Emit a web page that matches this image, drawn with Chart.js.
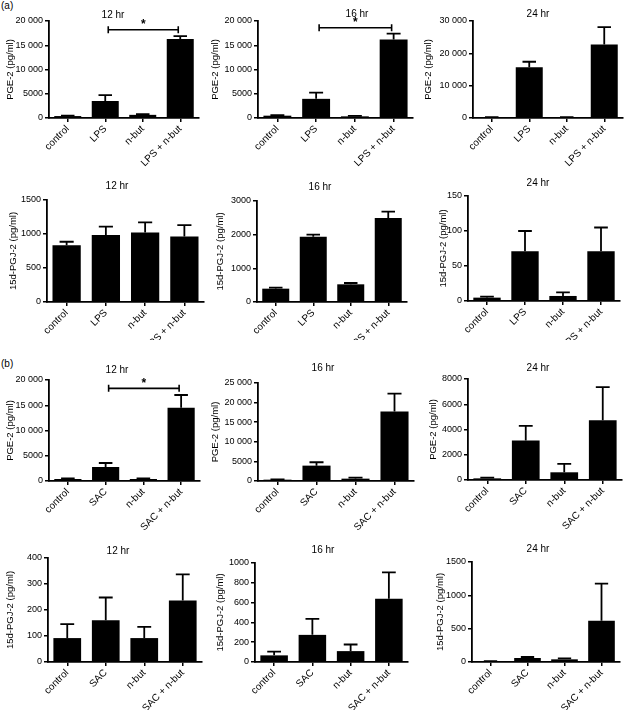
<!DOCTYPE html>
<html>
<head>
<meta charset="utf-8">
<script src="https://cdn.jsdelivr.net/npm/chart.js@4.4.1/dist/chart.umd.min.js"></script>
<style>
  html, body { margin: 0; padding: 0; background: #fff; }
  #fig { position: relative; width: 625px; height: 710px; overflow: hidden; font-family: "Liberation Sans", Arial, sans-serif; }
  .panel { position: absolute; }
  .tag { position: absolute; font-size: 10px; color: #000; line-height: 12px; }
</style>
</head>
<body>
<div id="fig">
  <div class="tag" style="left:1px;top:0px">(a)</div>
  <div class="tag" style="left:1px;top:358px">(b)</div>
</div>
<script>
// categories
const catsLPS = ['control', 'LPS', 'n-but', 'LPS + n-but'];
const catsSAC = ['control', 'SAC', 'n-but', 'SAC + n-but'];

// (a) LPS - PGE-2 (pg/ml), mean and upper error
const pgeLps12 = [400, 3500, 650, 16300];
const pgeLps12Err = [80, 1200, 150, 600];
const pgeLps16 = [480, 3950, 340, 16200];
const pgeLps16Err = [120, 1300, 100, 1200];
const pgeLps24 = [200, 15700, 200, 22700];
const pgeLps24Err = [50, 1700, 50, 5400];

// (a) LPS - 15d-PGJ-2 (pg/ml)
const pgjLps12 = [836, 984, 1023, 964];
const pgjLps12Err = [50, 123, 147, 167];
const pgjLps16 = [396, 1940, 525, 2495];
const pgjLps16Err = [30, 60, 40, 190];
const pgjLps24 = [4.8, 71, 7.2, 71];
const pgjLps24Err = [1.4, 29, 5.2, 34];

// (b) SAC - PGE-2 (pg/ml)
const pgeSac12 = [400, 2770, 400, 14520];
const pgeSac12Err = [100, 790, 100, 2510];
const pgeSac16 = [340, 3920, 600, 17750];
const pgeSac16Err = [100, 860, 250, 4520];
const pgeSac24 = [130, 3126, 610, 4740];
const pgeSac24Err = [55, 1164, 660, 2620];

// (b) SAC - 15d-PGJ-2 (pg/ml)
const pgjSac12 = [92, 161, 92, 237];
const pgjSac12Err = [54, 87, 43, 100];
const pgjSac16 = [67, 274, 110, 639];
const pgjSac16Err = [37, 161, 67, 267];
const pgjSac24 = [10, 60, 40, 620];
const pgjSac24Err = [3, 15, 15, 555];

// y tick labels
const ticks20k = [0, 5000, 10000, 15000, 20000];
const ticks30k = [0, 10000, 20000, 30000];
const ticks25k = [0, 5000, 10000, 15000, 20000, 25000];
const ticks8k = [0, 2000, 4000, 6000, 8000];
const ticks1500 = [0, 500, 1000, 1500];
const ticks3000 = [0, 1000, 2000, 3000];
const ticks150 = [0, 50, 100, 150];
const ticks400 = [0, 100, 200, 300, 400];
const ticks1000 = [0, 200, 400, 600, 800, 1000];

// significance brackets: [from index, to index, level]
const sigLps12 = [1, 3, 18200];
const sigLps16 = [1, 3, 18600];
const sigSac12 = [1, 3, 18350];

const pgeLabel = 'PGE-2 (pg/ml)';
const pgjLabel = '15d-PGJ-2 (pg/ml)';

const FONT = '"Liberation Sans", Arial, sans-serif';

// thousands separator with a space, only for 5+ digit numbers
function fmt(v) {
    if (Math.abs(v) < 10000) return String(v);
    return String(v).replace(/\B(?=(\d{3})+(?!\d))/g, ' ');
}

// upper error bars with caps
const errorBars = {
    id: 'errorBars',
    afterDatasetsDraw(chart) {
        const ds = chart.data.datasets[0];
        const meta = chart.getDatasetMeta(0);
        const y = chart.scales.y;
        const ctx = chart.ctx;
        ctx.save();
        ctx.strokeStyle = '#000';
        ctx.lineWidth = 1.8;
        ds.data.forEach((v, i) => {
            const bar = meta.data[i];
            const yTop = y.getPixelForValue(v + ds.errors[i]);
            const yBase = y.getPixelForValue(v);
            const half = bar.width / 4;
            ctx.beginPath();
            ctx.moveTo(bar.x, yBase);
            ctx.lineTo(bar.x, yTop);
            ctx.moveTo(bar.x - half, yTop);
            ctx.lineTo(bar.x + half, yTop);
            ctx.stroke();
        });
        ctx.restore();
    }
};

// bracket with a star
const sigBracket = {
    id: 'sigBracket',
    afterDraw(chart, args, opts) {
        if (!opts || !opts.sig) return;
        const [a, b, level] = opts.sig;
        const x = chart.scales.x, y = chart.scales.y;
        const ctx = chart.ctx;
        const x1 = x.getPixelForValue(a) + 3;
        const x2 = x.getPixelForValue(b) - 2;
        const yy = y.getPixelForValue(level);
        ctx.save();
        ctx.strokeStyle = '#000';
        ctx.lineWidth = 1.6;
        ctx.beginPath();
        ctx.moveTo(x1, yy); ctx.lineTo(x2, yy);
        ctx.moveTo(x1, yy - 3.5); ctx.lineTo(x1, yy + 3.5);
        ctx.moveTo(x2, yy - 3.5); ctx.lineTo(x2, yy + 3.5);
        ctx.stroke();
        ctx.fillStyle = '#000';
        ctx.font = 'bold 12px ' + FONT;
        ctx.textAlign = 'center';
        ctx.textBaseline = 'middle';
        ctx.fillText('*', (x1 + x2) / 2, yy - 5);
        ctx.restore();
    }
};

// panel heading, placed in page coordinates
const panelTitle = {
    id: 'panelTitle',
    afterDraw(chart, args, opts) {
        const ctx = chart.ctx;
        ctx.save();
        ctx.fillStyle = '#000';
        ctx.font = '10px ' + FONT;
        ctx.textAlign = 'center';
        ctx.textBaseline = 'middle';
        ctx.fillText(opts.text, opts.x, opts.y);
        ctx.restore();
    }
};

// box: canvas [left, top, w, h]; plot: [L, T, R, B]; t: [titleX, titleY]; yt: y title centre x
const panels = [
    { cats: catsLPS, data: pgeLps12, err: pgeLps12Err, ticks: ticks20k, label: pgeLabel, title: '12 hr', sig: sigLps12,
      box: [0, 0, 207, 170], plot: [49, 21, 199, 118], t: [113, 15], yt: 10, lf: 9.5 },
    { cats: catsLPS, data: pgeLps16, err: pgeLps16Err, ticks: ticks20k, label: pgeLabel, title: '16 hr', sig: sigLps16,
      box: [205, 0, 212, 170], plot: [258, 21, 413, 118], t: [357, 14], yt: 215, lf: 9.5 },
    { cats: catsLPS, data: pgeLps24, err: pgeLps24Err, ticks: ticks30k, label: pgeLabel, title: '24 hr',
      box: [415, 0, 210, 170], plot: [473, 21, 623, 118], t: [538, 14], yt: 428, lf: 9.5 },

    { cats: catsLPS, data: pgjLps12, err: pgjLps12Err, ticks: ticks1500, label: pgjLabel, title: '12 hr',
      box: [0, 170, 207, 170], plot: [47, 200, 204, 302], t: [117, 186], yt: 13, lf: 9.5 },
    { cats: catsLPS, data: pgjLps16, err: pgjLps16Err, ticks: ticks3000, label: pgjLabel, title: '16 hr',
      box: [205, 170, 212, 170], plot: [257, 201, 407, 302], t: [320, 187], yt: 220, lf: 9.5 },
    { cats: catsLPS, data: pgjLps24, err: pgjLps24Err, ticks: ticks150, label: pgjLabel, title: '24 hr',
      box: [415, 170, 210, 170], plot: [468, 196, 620, 301], t: [538, 183], yt: 443, lf: 9.5 },

    { cats: catsSAC, data: pgeSac12, err: pgeSac12Err, ticks: ticks20k, label: pgeLabel, title: '12 hr', sig: sigSac12,
      box: [0, 355, 207, 180], plot: [49, 380, 200, 481], t: [117, 370], yt: 10, lf: 9.5 },
    { cats: catsSAC, data: pgeSac16, err: pgeSac16Err, ticks: ticks25k, label: pgeLabel, title: '16 hr',
      box: [205, 355, 212, 180], plot: [258, 383, 414, 481], t: [323, 368], yt: 215, lf: 9.5 },
    { cats: catsSAC, data: pgeSac24, err: pgeSac24Err, ticks: ticks8k, label: pgeLabel, title: '24 hr',
      box: [415, 355, 210, 180], plot: [468, 379, 622, 480], t: [538, 368], yt: 433, lf: 9.5 },

    { cats: catsSAC, data: pgjSac12, err: pgjSac12Err, ticks: ticks400, label: pgjLabel, title: '12 hr',
      box: [0, 530, 207, 180], plot: [48, 558, 202, 662], t: [118, 551], yt: 10, lf: 9.5 },
    { cats: catsSAC, data: pgjSac16, err: pgjSac16Err, ticks: ticks1000, label: pgjLabel, title: '16 hr',
      box: [205, 530, 212, 180], plot: [255, 563, 408, 662], t: [323, 550], yt: 220, lf: 9.5 },
    { cats: catsSAC, data: pgjSac24, err: pgjSac24Err, ticks: ticks1500, label: pgjLabel, title: '24 hr',
      box: [415, 530, 210, 180], plot: [472, 562, 620, 662], t: [538, 549], yt: 440, lf: 9.5 }
];

const fig = document.getElementById('fig');

panels.forEach(p => {
    const [left, top, w, h] = p.box;
    const [pl, pt, pr, pb] = p.plot;

    const wrap = document.createElement('div');
    wrap.className = 'panel';
    wrap.style.left = left + 'px';
    wrap.style.top = top + 'px';
    wrap.style.width = w + 'px';
    wrap.style.height = h + 'px';
    const canvas = document.createElement('canvas');
    canvas.width = w;
    canvas.height = h;
    canvas.style.width = w + 'px';
    canvas.style.height = h + 'px';
    wrap.appendChild(canvas);
    fig.appendChild(wrap);

    const axisGrid = {
        display: true,
        drawOnChartArea: false,
        drawTicks: true,
        tickLength: 4,
        color: '#000',
        lineWidth: 1.5
    };
    const axisBorder = { display: true, color: '#000', width: 1.8 };

    new Chart(canvas.getContext('2d'), {
        type: 'bar',
        data: {
            labels: p.cats,
            datasets: [{
                data: p.data,
                errors: p.err,
                backgroundColor: '#000',
                borderWidth: 0,
                categoryPercentage: 1,
                barPercentage: 0.72
            }]
        },
        plugins: [errorBars, sigBracket, panelTitle],
        options: {
            responsive: false,
            animation: false,
            devicePixelRatio: 1,
            layout: {
                padding: { left: 0, top: pt - top, right: left + w - pr, bottom: 0 }
            },
            plugins: {
                legend: { display: false },
                tooltip: { enabled: false },
                sigBracket: { sig: p.sig },
                panelTitle: { text: p.title, x: p.t[0] - left, y: p.t[1] - top }
            },
            scales: {
                x: {
                    grid: { ...axisGrid, offset: false },
                    border: axisBorder,
                    ticks: {
                        color: '#000',
                        font: { family: FONT, size: 10 },
                        minRotation: 45,
                        maxRotation: 45,
                        autoSkip: false,
                        padding: 1
                    },
                    afterFit: s => {
                        s.height = top + h - pb;
                        s.paddingLeft = 0;
                        s.paddingRight = 0;
                    }
                },
                y: {
                    min: 0,
                    max: p.ticks[p.ticks.length - 1],
                    grid: axisGrid,
                    border: axisBorder,
                    ticks: {
                        color: '#000',
                        font: { family: FONT, size: 9 },
                        padding: 2,
                        callback: v => fmt(v)
                    },
                    afterBuildTicks: s => {
                        s.ticks = p.ticks.map(v => ({ value: v }));
                    },
                    title: {
                        display: true,
                        text: p.label,
                        color: '#000',
                        font: { family: FONT, size: p.lf },
                        padding: { top: p.yt - left - p.lf * 0.6, bottom: 0 }
                    },
                    afterFit: s => {
                        s.width = pl - left;
                        s.paddingTop = 0;
                        s.paddingBottom = 0;
                    }
                }
            }
        }
    });
});
</script>
</body>
</html>
